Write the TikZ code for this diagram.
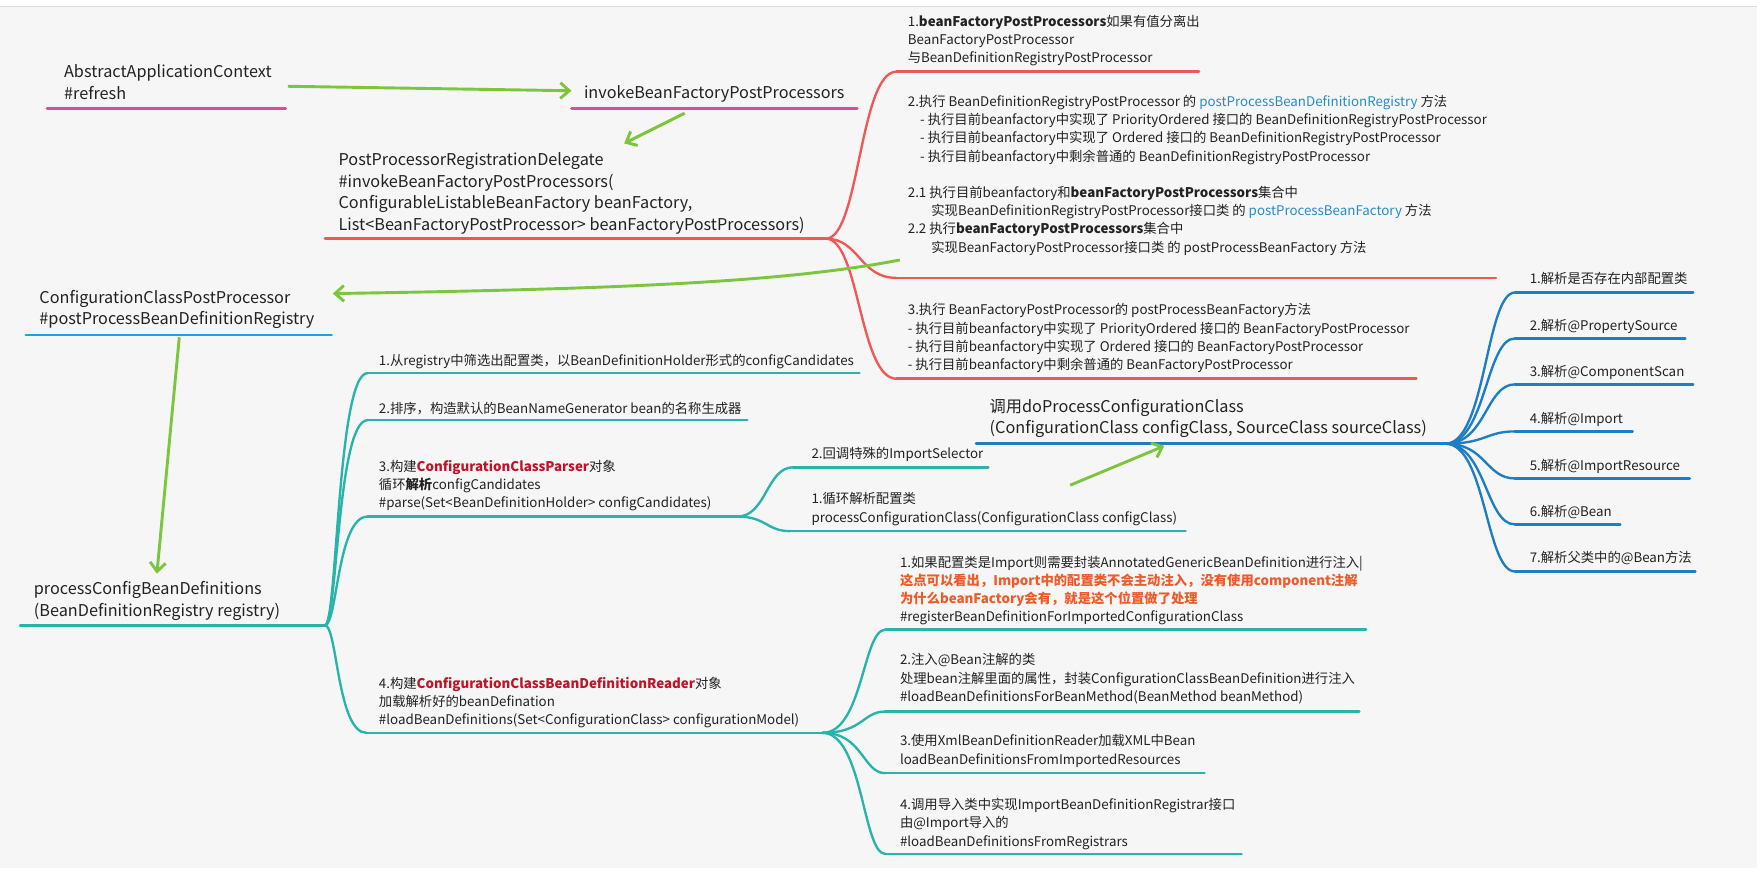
\documentclass[tikz,border=0pt]{standalone}
\usepackage{fontspec}
\setmainfont{Noto Sans CJK SC}
\usetikzlibrary{arrows.meta,calc}
\definecolor{fondo}{RGB}{246,246,246}
\definecolor{tinta}{RGB}{34,34,34}
\definecolor{rosa}{RGB}{214,80,150}
\definecolor{rojo}{RGB}{240,88,88}
\definecolor{verde}{RGB}{124,198,62}
\definecolor{celeste}{RGB}{30,160,225}
\definecolor{turquesa}{RGB}{40,180,170}
\definecolor{azul}{RGB}{30,125,195}
\definecolor{granate}{RGB}{190,20,40}
\definecolor{naranja}{RGB}{240,90,40}
\definecolor{enlace}{RGB}{40,140,200}
\tikzset{
  texto/.style={anchor=base west, inner sep=0pt, align=left, text=tinta,
    font=\fontsize{11.9}{16.3}\selectfont},
  grande/.style={texto, font=\fontsize{14.5}{19.4}\selectfont},
  raya/.style={line width=2.3pt, line cap=round},
  rama/.style={line width=2.1pt, to path={.. controls ($(\tikztostart)+(#1,0)$)
    and ($(\tikztostart |- \tikztotarget)+(#1,0)$) .. (\tikztotarget)}},
  rama/.default=15,
  flecha/.style={verde, line width=2.6pt, -{Straight Barb[length=8pt,width=14pt]}},
}
\begin{document}
\begin{tikzpicture}[x=1pt,y=-1pt]
\useasboundingbox (0,0) rectangle (1568,775);
% Fondo
\fill[fondo] (0,0) rectangle (1568,775);
\fill[white] (0,0) rectangle (1568,6);
\draw[black!12] (0,6) -- (1568,6);
% Inicio
\node[grande] (Refresh) at (57,89) {AbstractApplicationContext\\\#refresh};
\draw[rosa, raya] (42,97) coordinate (refresh-l) -- (255,97) coordinate (refresh-r);
\node[grande] (Invoke) at (521,88) {invokeBeanFactoryPostProcessors};
\draw[rosa, raya] (510,97) coordinate (invoke-l) -- (765,97) coordinate (invoke-r);
\node[grande, font=\fontsize{14.5}{19.5}\selectfont] (Delegate) at (302,206)
  {PostProcessorRegistrationDelegate\\\#invokeBeanFactoryPostProcessors(\\
   ConfigurableListableBeanFactory beanFactory,\\
   List<BeanFactoryPostProcessor> beanFactoryPostProcessors)};
\draw[rojo, raya] (290,213) coordinate (delegate-l) -- (737,213) coordinate (delegate-r);
% Ramas rojas
\node[texto] (R1) at (810,56) {1.\textbf{beanFactoryPostProcessors}如果有值分离出\\
  BeanFactoryPostProcessor\\与BeanDefinitionRegistryPostProcessor};
\draw[rojo, raya] (800,64) coordinate (r1-l) -- (1070,64);
\node[texto] (R2) at (810,225) {2.执行 BeanDefinitionRegistryPostProcessor 的 \textcolor{enlace}{postProcessBeanDefinitionRegistry} 方法\\
  \hspace*{11pt}- 执行目前beanfactory中实现了 PriorityOrdered 接口的 BeanDefinitionRegistryPostProcessor\\
  \hspace*{11pt}- 执行目前beanfactory中实现了 Ordered 接口的 BeanDefinitionRegistryPostProcessor\\
  \hspace*{11pt}- 执行目前beanfactory中剩余普通的 BeanDefinitionRegistryPostProcessor\\[16pt]
  2.1 执行目前beanfactory和\textbf{beanFactoryPostProcessors}集合中\\
  \hspace*{21pt}实现BeanDefinitionRegistryPostProcessor接口类 的 \textcolor{enlace}{postProcessBeanFactory} 方法\\
  2.2 执行\textbf{beanFactoryPostProcessors}集合中\\
  \hspace*{21pt}实现BeanFactoryPostProcessor接口类 的 postProcessBeanFactory 方法};
\draw[rojo, raya] (800,248) coordinate (r2-l) -- (1335,248);
\node[texto] (R3) at (810,330) {3.执行 BeanFactoryPostProcessor的 postProcessBeanFactory方法\\
  - 执行目前beanfactory中实现了 PriorityOrdered 接口的 BeanFactoryPostProcessor\\
  - 执行目前beanfactory中实现了 Ordered 接口的 BeanFactoryPostProcessor\\
  - 执行目前beanfactory中剩余普通的 BeanFactoryPostProcessor};
\draw[rojo, raya] (800,338) coordinate (r3-l) -- (1264,338);
\draw[rojo, rama=30] (delegate-r) to (r1-l);
\draw[rojo, rama=30] (delegate-r) to (r2-l);
\draw[rojo, rama=30] (delegate-r) to (r3-l);
% Registro
\node[grande] (Registry) at (35,290) {ConfigurationClassPostProcessor\\\#postProcessBeanDefinitionRegistry};
\draw[celeste, raya] (23,299) coordinate (registry-l) -- (296,299) coordinate (registry-r);
\node[grande] (Process) at (30,550) {processConfigBeanDefinitions\\(BeanDefinitionRegistry registry)};
\draw[turquesa, raya] (18,558) coordinate (process-l) -- (290,558) coordinate (process-r);
% Ramas turquesa
\node[texto] (A) at (338,326) {1.从registry中筛选出配置类，以BeanDefinitionHolder形式的configCandidates};
\draw[turquesa, raya] (328,333) coordinate (a-l) -- (767,333);
\node[texto] (B) at (338,369) {2.排序，构造默认的BeanNameGenerator bean的名称生成器};
\draw[turquesa, raya] (328,375) coordinate (b-l) -- (667,375);
\node[texto] (C) at (338,453) {3.构建\textbf{\textcolor{granate}{ConfigurationClassParser}}对象\\
  循环\textbf{解析}configCandidates\\\#parse(Set<BeanDefinitionHolder> configCandidates)};
\draw[turquesa, raya] (328,461) coordinate (c-l) -- (658,461) coordinate (c-r);
\node[texto] (D) at (338,647) {4.构建\textbf{\textcolor{granate}{ConfigurationClassBeanDefinitionReader}}对象\\
  加载解析好的beanDefination\\\#loadBeanDefinitions(Set<ConfigurationClass> configurationModel)};
\draw[turquesa, raya] (327,654) coordinate (d-l) -- (734,654) coordinate (d-r);
\draw[turquesa, rama=11] (process-r) to (a-l);
\draw[turquesa, rama=11] (process-r) to (b-l);
\draw[turquesa, rama=11] (process-r) to (c-l);
\draw[turquesa, rama=11] (process-r) to (d-l);
% Parser
\node[texto] (C1) at (724,409) {2.回调特殊的ImportSelector};
\draw[turquesa, raya] (708,417) coordinate (c1-l) -- (882,417);
\node[texto] (C2) at (724,466) {1.循环解析配置类\\processConfigurationClass(ConfigurationClass configClass)};
\draw[turquesa, raya] (705,474) coordinate (c2-l) -- (1058,474);
\draw[turquesa, rama=26] (c-r) to (c1-l);
\draw[turquesa, rama=26] (c-r) to (c2-l);
% doProcess
\node[grande, font=\fontsize{14.5}{19}\selectfont] (DoProcess) at (883,387)
  {调用doProcessConfigurationClass\\(ConfigurationClass configClass, SourceClass sourceClass)};
\draw[azul, raya] (871,396) coordinate (doprocess-l) -- (1290,396) coordinate (doprocess-r);
\node[texto] (P1) at (1365,253) {1.解析是否存在内部配置类};
\draw[azul, raya] (1352,261) coordinate (p1-l) -- (1511,261);
\node[texto] (P2) at (1365,295) {2.解析@PropertySource};
\draw[azul, raya] (1352,302) coordinate (p2-l) -- (1504,302);
\node[texto] (P3) at (1365,336) {3.解析@ComponentScan};
\draw[azul, raya] (1352,343) coordinate (p3-l) -- (1511,343);
\node[texto] (P4) at (1365,378) {4.解析@Import};
\draw[azul, raya] (1352,385) coordinate (p4-l) -- (1457,385);
\node[texto] (P5) at (1365,420) {5.解析@ImportResource};
\draw[azul, raya] (1352,427) coordinate (p5-l) -- (1508,427);
\node[texto] (P6) at (1365,461) {6.解析@Bean};
\draw[azul, raya] (1352,468) coordinate (p6-l) -- (1446,468);
\node[texto] (P7) at (1365,502) {7.解析父类中的@Bean方法};
\draw[azul, raya] (1352,510) coordinate (p7-l) -- (1513,510);
\draw[azul, rama=36] (doprocess-r) to (p1-l);
\draw[azul, rama=36] (doprocess-r) to (p2-l);
\draw[azul, rama=36] (doprocess-r) to (p3-l);
\draw[azul, rama=36] (doprocess-r) to (p4-l);
\draw[azul, rama=36] (doprocess-r) to (p5-l);
\draw[azul, rama=36] (doprocess-r) to (p6-l);
\draw[azul, rama=36] (doprocess-r) to (p7-l);
% Reader
\node[texto] (D1) at (803,555) {1.如果配置类是Import则需要封装AnnotatedGenericBeanDefinition进行注入|\\
  \textbf{\textcolor{naranja}{这点可以看出，Import中的配置类不会主动注入，没有使用component注解}}\\
  \textbf{\textcolor{naranja}{为什么beanFactory会有，就是这个位置做了处理}}\\
  \#registerBeanDefinitionForImportedConfigurationClass};
\draw[turquesa, raya] (790,562) coordinate (d1-l) -- (1219,562);
\node[texto] (D2) at (803,626) {2.注入@Bean注解的类\\
  处理bean注解里面的属性，封装ConfigurationClassBeanDefinition进行注入\\
  \#loadBeanDefinitionsForBeanMethod(BeanMethod beanMethod)};
\draw[turquesa, raya] (790,635) coordinate (d2-l) -- (1213,635);
\node[texto] (D3) at (803,682) {3.使用XmlBeanDefinitionReader加载XML中Bean\\loadBeanDefinitionsFromImportedResources};
\draw[turquesa, raya] (790,690) coordinate (d3-l) -- (1075,690);
\node[texto] (D4) at (803,755) {4.调用导入类中实现ImportBeanDefinitionRegistrar接口\\由@Import导入的\\\#loadBeanDefinitionsFromRegistrars};
\draw[turquesa, raya] (790,762) coordinate (d4-l) -- (1108,762);
\draw[turquesa, rama=36] (d-r) to (d1-l);
\draw[turquesa, rama=36] (d-r) to (d2-l);
\draw[turquesa, rama=36] (d-r) to (d3-l);
\draw[turquesa, rama=36] (d-r) to (d4-l);
% Flechas
\coordinate (g1a) at (257,77);  \coordinate (g1b) at (510,81);
\coordinate (g2a) at (611,101); \coordinate (g2b) at (557,128);
\coordinate (g3a) at (803,232); \coordinate (g3b) at (297,262);
\coordinate (g4a) at (160,301); \coordinate (g4b) at (140,512);
\coordinate (g5a) at (955,433); \coordinate (g5b) at (1039,398);
\draw[flecha] (g1a) -- (g1b);
\draw[flecha] (g2a) -- (g2b);
\draw[flecha] (g3a) .. controls (700,252) and (550,258) .. (g3b);
\draw[flecha] (g4a) -- (g4b);
\draw[flecha] (g5a) -- (g5b);
\end{tikzpicture}
\end{document}
